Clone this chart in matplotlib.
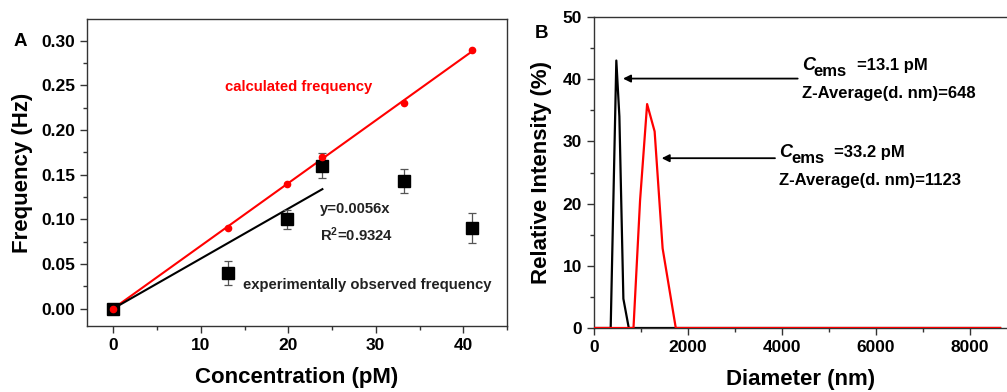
import matplotlib
matplotlib.use("Agg")
import matplotlib.pyplot as plt
import numpy as np
from matplotlib.ticker import MultipleLocator

plt.rcParams['font.family'] = ['Liberation Sans', 'DejaVu Sans']
plt.rcParams['font.weight'] = 'bold'
plt.rcParams['mathtext.fontset'] = 'custom'
plt.rcParams['mathtext.rm'] = 'Liberation Sans:bold'
plt.rcParams['mathtext.bf'] = 'Liberation Sans:bold'
plt.rcParams['mathtext.it'] = 'Liberation Sans:italic:bold'

# Panel A data
conc = [0, 13.1, 19.8, 23.9, 33.2, 41.0]
calc_freq = [0, 0.09, 0.14, 0.17, 0.23, 0.29]
obs_freq = [0, 0.04, 0.10, 0.16, 0.143, 0.09]
obs_err = [0, 0.013, 0.011, 0.014, 0.013, 0.017]
fit_slope = 0.0056
fit_range = [0, 23.9]

# Panel B data
diam_black = [0, 355, 475, 540, 625, 740, 8640]
int_black = [0, 0, 43, 34, 4.7, 0, 0]
diam_red = [0, 840, 980, 1130, 1290, 1460, 1740, 8640]
int_red = [0, 0, 20.5, 36, 31.6, 12.8, 0, 0]
cems_labels = ['=13.1 pM', '=33.2 pM']
zavg_labels = ['Z-Average(d. nm)=648', 'Z-Average(d. nm)=1123']

fig = plt.figure(figsize=(10.07, 3.92), dpi=100)
W, H = 1007, 392

def add_axes(l, r, t, b):
    return fig.add_axes([l / W, 1 - b / H, (r - l) / W, (b - t) / H])

spine_col = '#333333'

# ---------------- Panel A ----------------
axA = add_axes(87, 507, 19, 326)
k_red = np.sum(np.array(conc) * np.array(calc_freq)) / np.sum(np.array(conc) ** 2)
xr = np.array([0, conc[-1]])
axA.plot(xr, k_red * xr, color='#ff0000', lw=1.5, zorder=2)
axA.plot(fit_range, [fit_slope * v for v in fit_range], color='black', lw=1.5, zorder=2)
axA.errorbar(conc, obs_freq, yerr=obs_err, fmt='s', color='black', ms=8,
             ecolor='#555555', elinewidth=0.9, capsize=3, capthick=0.9, zorder=3)
axA.plot(conc, calc_freq, 'o', color='#ff0000', ms=4.5, zorder=4, lw=0)

axA.set_xlim(-3, 45)
axA.set_ylim(-0.0195, 0.3245)
axA.xaxis.set_major_locator(MultipleLocator(10))
axA.xaxis.set_minor_locator(MultipleLocator(5))
axA.yaxis.set_major_locator(MultipleLocator(0.05))
axA.yaxis.set_minor_locator(MultipleLocator(0.025))
axA.yaxis.set_major_formatter(matplotlib.ticker.FormatStrFormatter('%.2f'))
axA.set_xlabel('Concentration (pM)', fontsize=16, fontweight='bold')
axA.set_ylabel('Frequency (Hz)', fontsize=16, fontweight='bold')
axA.xaxis.set_label_coords(0.5, -0.134)
axA.yaxis.set_label_coords(-0.129, 0.5)

txt_kw = dict(fontsize=10.7, fontweight='bold', va='center', ha='left')
axA.text(12.8, 0.248, 'calculated frequency', color='#ff0000', **txt_kw)
axA.text(23.6, 0.112, 'y=0.0056x', color='#222222', **txt_kw)
axA.text(23.6, 0.083, 'R$^{2}$=0.9324', color='#222222', **txt_kw)
axA.text(14.8, 0.027, 'experimentally observed frequency', color='#222222', **txt_kw)

# ---------------- Panel B ----------------
axB = add_axes(594, 1007, 17, 328)
axB.plot(diam_black, int_black, color='black', lw=1.6, zorder=2)
axB.plot(diam_red, int_red, color='#ff0000', lw=1.6, zorder=3)
axB.set_xlim(0, 8787)
axB.set_ylim(0, 50)
axB.xaxis.set_major_locator(MultipleLocator(2000))
axB.xaxis.set_minor_locator(MultipleLocator(1000))
axB.yaxis.set_major_locator(MultipleLocator(10))
axB.yaxis.set_minor_locator(MultipleLocator(5))
axB.spines['right'].set_visible(False)
axB.set_xlabel('Diameter (nm)', fontsize=16, fontweight='bold')
axB.set_ylabel('Relative Intensity (%)', fontsize=16, fontweight='bold')
axB.xaxis.set_label_coords(0.5, -0.132)
axB.yaxis.set_label_coords(-0.102, 0.5)

arrow_kw = dict(arrowstyle='-|>', color='black', lw=1.3, mutation_scale=11,
                shrinkA=0, shrinkB=0)
axB.annotate('', xy=(617, 40.1), xytext=(4334, 40.1), arrowprops=arrow_kw)
axB.annotate('', xy=(1440, 27.3), xytext=(3851, 27.3), arrowprops=arrow_kw)

def cems_block(x0, y_base, y_z, value_text, z_text):
    common = dict(xycoords='data', textcoords='offset pixels', ha='left',
                  va='baseline', fontweight='bold')
    axB.annotate('C', xy=(x0, y_base), xytext=(0, 0), fontsize=13,
                 fontstyle='italic', **common)
    axB.annotate('ems', xy=(x0, y_base), xytext=(12, -6), fontsize=12, **common)
    axB.annotate(value_text, xy=(x0, y_base), xytext=(55, 0), fontsize=12, **common)
    axB.text(x0, y_z, z_text, fontsize=12, fontweight='bold', ha='left', va='baseline')

cems_block(4419, 41.4, 36.9, cems_labels[0], zavg_labels[0])
cems_block(3943, 27.5, 23.0, cems_labels[1], zavg_labels[1])

for ax in (axA, axB):
    for s in ax.spines.values():
        s.set_color(spine_col)
        s.set_linewidth(1.0)
    ax.tick_params(which='major', direction='out', length=5, width=1.0,
                   color=spine_col, labelsize=12.5, top=False, right=False)
    ax.tick_params(which='minor', direction='out', length=3, width=1.0,
                   color=spine_col, top=False, right=False)
    for lbl in ax.get_xticklabels() + ax.get_yticklabels():
        lbl.set_fontweight('bold')

fig.text(14 / W, 1 - 41 / H, 'A', fontsize=13.5, fontweight='bold', va='center', ha='left')
fig.text(535 / W, 1 - 34 / H, 'B', fontsize=13.5, fontweight='bold', va='center', ha='left')

fig.savefig('out.png', dpi=100)
